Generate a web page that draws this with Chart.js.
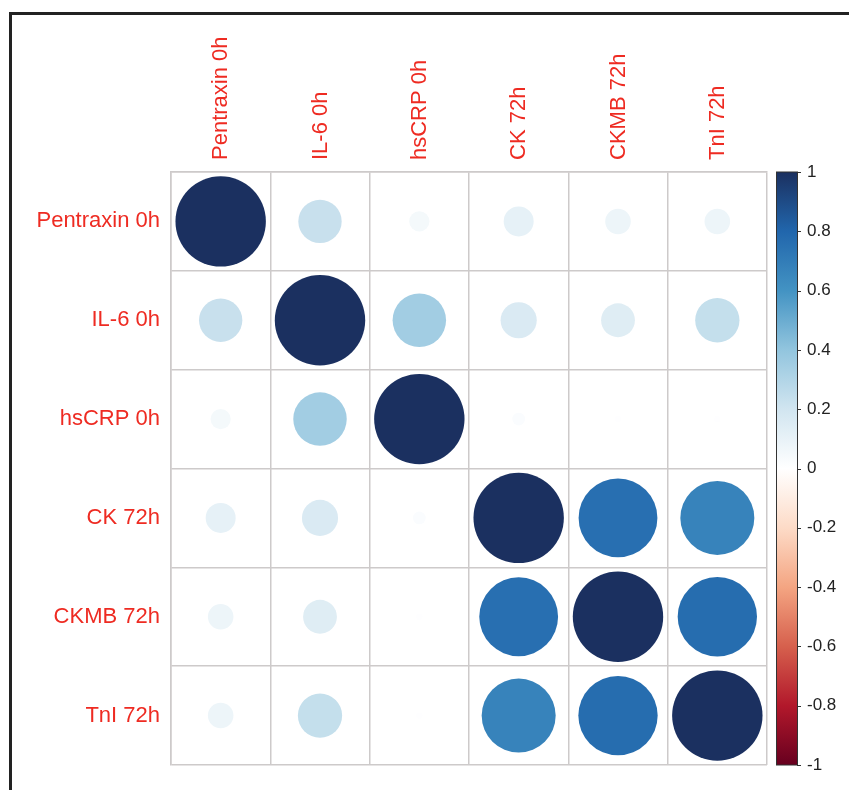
<!DOCTYPE html>
<html>
<head>
<meta charset="utf-8">
<script src="https://cdn.jsdelivr.net/npm/chart.js@4"></script>
<style>
    html, body { margin: 0; padding: 0; background: #fff; }
    #wrap { position: relative; width: 849px; height: 790px; overflow: hidden; }
    #frame { position: absolute; left: 9px; top: 12px; width: 900px; height: 900px;
             border-left: 3px solid #222; border-top: 3px solid #222; }
    #corr { position: absolute; left: 0; top: 0; }
</style>
</head>
<body>
<div id="wrap">
    <div id="frame"></div>
    <canvas id="corr" width="849" height="790"></canvas>
</div>
<script>
// variables (same order on both axes)
const labels = ["Pentraxin 0h", "IL-6 0h", "hsCRP 0h", "CK 72h", "CKMB 72h", "TnI 72h"];

// correlation matrix, one row per variable
const rowPentraxin = [1, 0.23, 0.05, 0.11, 0.08, 0.08];
const rowIL6 = [0.23, 1, 0.35, 0.16, 0.14, 0.24];
const rowHsCRP = [0.05, 0.35, 1, 0.02, 0.005, 0.005];
const rowCK = [0.11, 0.16, 0.02, 1, 0.76, 0.67];
const rowCKMB = [0.08, 0.14, 0.005, 0.76, 1, 0.77];
const rowTnI = [0.08, 0.24, 0.005, 0.67, 0.77, 1];
const rows = [rowPentraxin, rowIL6, rowHsCRP, rowCK, rowCKMB, rowTnI];

// colour legend ticks
const colorTicks = [1, 0.8, 0.6, 0.4, 0.2, 0, -0.2, -0.4, -0.6, -0.8, -1];

// RdBu ramp from -1 to 1
const palette = ["#67001F", "#B2182B", "#D6604D", "#F4A582", "#FDDBC7", "#FFFFFF",
                 "#D1E5F0", "#92C5DE", "#4393C3", "#2166AC", "#1b3060"];

function hexToRgb(h) {
    return [1, 3, 5].map(i => parseInt(h.substr(i, 2), 16));
}

function corrColor(v) {
    const pos = (v + 1) / 2 * (palette.length - 1);
    const i = Math.min(Math.floor(pos), palette.length - 2);
    const t = pos - i;
    const a = hexToRgb(palette[i]);
    const b = hexToRgb(palette[i + 1]);
    const c = a.map((x, k) => Math.round(x + (b[k] - x) * t));
    return `rgb(${c[0]}, ${c[1]}, ${c[2]})`;
}

const points = [];
rows.forEach((row, r) => {
    row.forEach((v, c) => {
        points.push({ x: labels[c], y: labels[r], v: v });
    });
});

const labelFont = { family: "'Liberation Sans', Arial, sans-serif", size: 22 };
const labelColor = "#ee2b22";
const gridColor = "#cdcaca";

// colour legend drawn next to the grid, positioned by the cb scale
const colorBar = {
    id: "colorBar",
    afterDraw(chart) {
        const s = chart.scales.cb;
        const ctx = chart.ctx;
        const top = s.getPixelForValue(1);
        const bottom = s.getPixelForValue(-1);
        const x0 = chart.chartArea.right + 9;
        const w = 21;

        const grad = ctx.createLinearGradient(0, top, 0, bottom);
        palette.forEach((col, i) => {
            grad.addColorStop(1 - i / (palette.length - 1), col);
        });

        ctx.save();
        ctx.fillStyle = grad;
        ctx.fillRect(x0, top, w, bottom - top);
        ctx.strokeStyle = "#333";
        ctx.lineWidth = 1;
        ctx.strokeRect(x0 + 0.5, top, w, bottom - top);

        ctx.beginPath();
        colorTicks.forEach(v => {
            const y = Math.round(s.getPixelForValue(v)) + 0.5;
            ctx.moveTo(x0 + w, y);
            ctx.lineTo(x0 + w + 4, y);
        });
        ctx.stroke();
        ctx.restore();
    }
};

// circle area follows |r|, full cell for r = 1
function circleRadius(c) {
    if (!c.raw) return 0;
    const xs = c.chart.scales.x;
    const cell = Math.abs(xs.getPixelForValue(1) - xs.getPixelForValue(0));
    return isFinite(cell) ? Math.sqrt(Math.abs(c.raw.v)) * cell * 0.455 : 0;
}

const ctx = document.getElementById("corr").getContext("2d");

new Chart(ctx, {
    type: "scatter",
    data: {
        datasets: [{
            data: points,
            pointBackgroundColor: c => c.raw ? corrColor(c.raw.v) : "#fff",
            pointBorderWidth: 0,
            pointRadius: circleRadius
        }]
    },
    options: {
        responsive: false,
        animation: false,
        events: [],
        layout: { padding: { left: 0, top: 0, right: 0, bottom: 25 } },
        plugins: {
            legend: { display: false },
            tooltip: { enabled: false }
        },
        scales: {
            x: {
                type: "category",
                position: "top",
                labels: labels,
                offset: true,
                grid: { offset: true, color: gridColor, lineWidth: 1.5, drawTicks: false },
                border: { color: gridColor, width: 1.5 },
                ticks: {
                    autoSkip: false,
                    minRotation: 90,
                    maxRotation: 90,
                    padding: 12,
                    labelOffset: 27,
                    color: labelColor,
                    font: labelFont
                },
                afterFit: s => { s.height = 172; s.paddingLeft = 0; s.paddingRight = 0; }
            },
            y: {
                type: "category",
                position: "left",
                labels: labels,
                offset: true,
                grid: { offset: true, color: gridColor, lineWidth: 1.5, drawTicks: false },
                border: { color: gridColor, width: 1.5 },
                ticks: {
                    autoSkip: false,
                    padding: 11,
                    color: labelColor,
                    font: labelFont
                },
                afterFit: s => { s.width = 171; s.paddingTop = 0; s.paddingBottom = 0; }
            },
            cb: {
                type: "linear",
                position: "right",
                min: -1,
                max: 1,
                grid: { display: false, drawTicks: false },
                border: { display: false },
                afterBuildTicks: s => { s.ticks = colorTicks.map(v => ({ value: v })); },
                ticks: {
                    padding: 40,
                    color: "#222",
                    font: { family: "'Liberation Sans', Arial, sans-serif", size: 17 },
                    callback: v => String(v)
                },
                afterFit: s => { s.width = 82; s.paddingTop = 0; s.paddingBottom = 0; }
            }
        }
    },
    plugins: [colorBar]
});
</script>
</body>
</html>
